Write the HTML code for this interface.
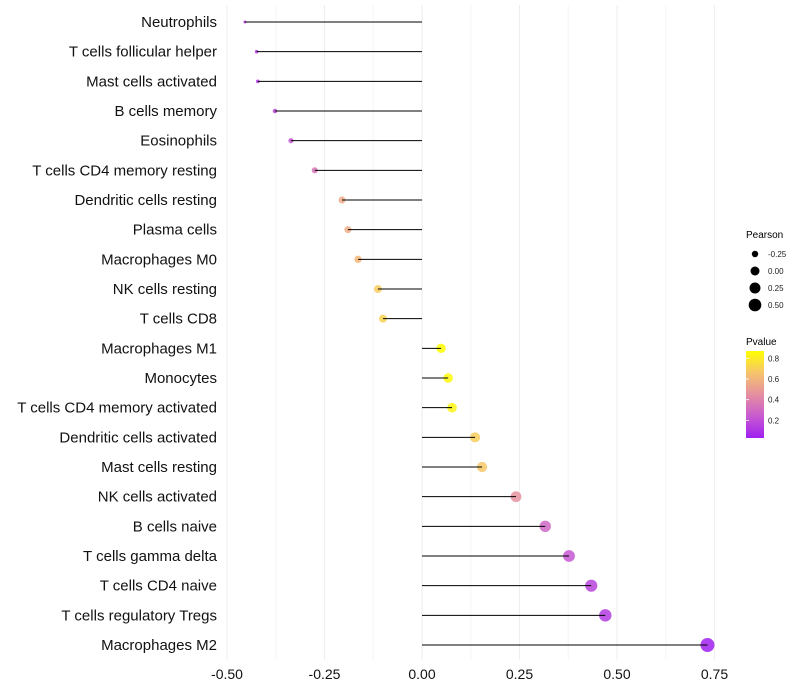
<!DOCTYPE html>
<html><head><meta charset="utf-8"><style>
body{margin:0;background:#fff;overflow:hidden;}
svg{display:block;}
svg text{font-family:"Liberation Sans",sans-serif;}
</style></head><body>
<svg id="chart" width="800" height="700" xmlns="http://www.w3.org/2000/svg">
<g id="grid"></g>
<g id="ylab"></g>
<g id="pts"></g>
<g id="marks"></g>
<g id="xlab"></g>
<g id="legend">
<text x="746" y="238" font-size="10">Pearson</text>
<g id="sizeLegend"></g>
<text x="746" y="345" font-size="10">Pvalue</text>
<defs><linearGradient id="pg" x1="0" y1="1" x2="0" y2="0">
<stop offset="0" stop-color="#a020f0"/><stop offset="0.25" stop-color="#c85ad0"/><stop offset="0.5" stop-color="#e58fa0"/><stop offset="0.75" stop-color="#f6c46c"/><stop offset="1" stop-color="#ffff00"/></linearGradient></defs>
<rect x="746" y="351" width="18" height="87" fill="url(#pg)"/>
<g id="colorTicks"></g>
</g>
</svg>
<script>
const categories=["Neutrophils","T cells follicular helper","Mast cells activated","B cells memory","Eosinophils","T cells CD4 memory resting","Dendritic cells resting","Plasma cells","Macrophages M0","NK cells resting","T cells CD8","Macrophages M1","Monocytes","T cells CD4 memory activated","Dendritic cells activated","Mast cells resting","NK cells activated","B cells naive","T cells gamma delta","T cells CD4 naive","T cells regulatory  Tregs ","Macrophages M2"];
const pearson=[-0.454,-0.424,-0.421,-0.377,-0.336,-0.275,-0.205,-0.190,-0.164,-0.113,-0.100,0.049,0.067,0.077,0.136,0.154,0.241,0.316,0.377,0.434,0.470,0.732];
const pvalue=[0.10,0.12,0.12,0.16,0.22,0.34,0.55,0.56,0.60,0.68,0.70,0.86,0.84,0.82,0.68,0.66,0.45,0.28,0.22,0.15,0.12,0.02];
const xTicks=[-0.5,-0.25,0,0.25,0.5,0.75];
const xTickLabels=["-0.50","-0.25","0.00","0.25","0.50","0.75"];
const sizeLegendValues=[-0.25,0,0.25,0.5];
const sizeLegendLabels=["-0.25","0.00","0.25","0.50"];
const colorTicks=[0.2,0.4,0.6,0.8];
const NS="http://www.w3.org/2000/svg";
const nRows=categories.length;
const yTop=22,yBottom=645;
const xS=v=>422+v*390;
const yS=i=>yTop+i*(yBottom-yTop)/(nRows-1);
const rS=v=>Math.sqrt(Math.max(1,20.1+39.4*v));
const pMin=0.02,pMax=0.86;
const stops=[[0,[160,32,240]],[0.25,[200,90,208]],[0.5,[229,143,160]],[0.75,[246,196,108]],[1,[255,255,0]]];
function col(p){let t=Math.max(0,Math.min(1,(p-pMin)/(pMax-pMin)));for(let k=1;k<stops.length;k++){if(t<=stops[k][0]){const a=stops[k-1],b=stops[k];const f=(t-a[0])/(b[0]-a[0]);const c=a[1].map((x,j)=>Math.round(x+(b[1][j]-x)*f));return "rgb("+c.join(",")+")";}}return "rgb(255,255,0)";}
function mk(tag,attrs,parent){const e=document.createElementNS(NS,tag);for(const k in attrs)e.setAttribute(k,attrs[k]);parent.appendChild(e);return e;}
const grid=document.getElementById('grid');
for(let k=0;k<xTicks.length;k++){
  const g=mk('line',{x1:xS(xTicks[k]),x2:xS(xTicks[k]),y1:5,y2:660,stroke:'#efefef','stroke-width':1.2},grid);
  
  
  if(k<xTicks.length-1){const m=(xTicks[k]+xTicks[k+1])/2;
  const g2=mk('line',{x1:xS(m),x2:xS(m),y1:5,y2:660,stroke:'#f6f6f6','stroke-width':1},grid);
  
  }
  const t=mk('text',{x:xS(xTicks[k]),y:679,'font-size':14,'text-anchor':'middle',fill:'#111'},document.getElementById('xlab'));
  t.textContent=xTickLabels[k];
  
  
}
const marks=document.getElementById('marks'),pts=document.getElementById('pts'),ylab=document.getElementById('ylab');
for(let i=0;i<nRows;i++){
  const y=yS(i);
  const c=mk('circle',{cx:xS(pearson[i]),cy:y,r:rS(pearson[i]),fill:col(pvalue[i]),opacity:0.85},pts);
  
  
  const l=mk('line',{x1:xS(0),x2:xS(pearson[i]),y1:y,y2:y,stroke:'#000','stroke-width':1},marks);
  
  
  const t=mk('text',{x:217,y:y+5,'font-size':15,'text-anchor':'end',fill:'#111'},ylab);
  t.textContent=categories[i];
  
  
}
const sl=document.getElementById('sizeLegend');
for(let k=0;k<sizeLegendValues.length;k++){
  const y=254+k*17;
  const c=mk('circle',{cx:755,cy:y,r:rS(sizeLegendValues[k]),fill:'#000'},sl);
  
  
  const t=mk('text',{x:768,y:y+3,'font-size':8,fill:'#222'},sl);
  t.textContent=sizeLegendLabels[k];
  
  
}
const ct=document.getElementById('colorTicks');
for(const v of colorTicks){
  const y=438-(v-0.03)/(0.87-0.03)*87;
  const ln=mk('line',{x1:746,x2:749,y1:y,y2:y,stroke:'#fff','stroke-width':0.8},ct);
  
  
  const t=mk('text',{x:768,y:y+3,'font-size':8,fill:'#222'},ct);
  t.textContent=v.toFixed(1);
  
  
}
</script>
</body></html>
